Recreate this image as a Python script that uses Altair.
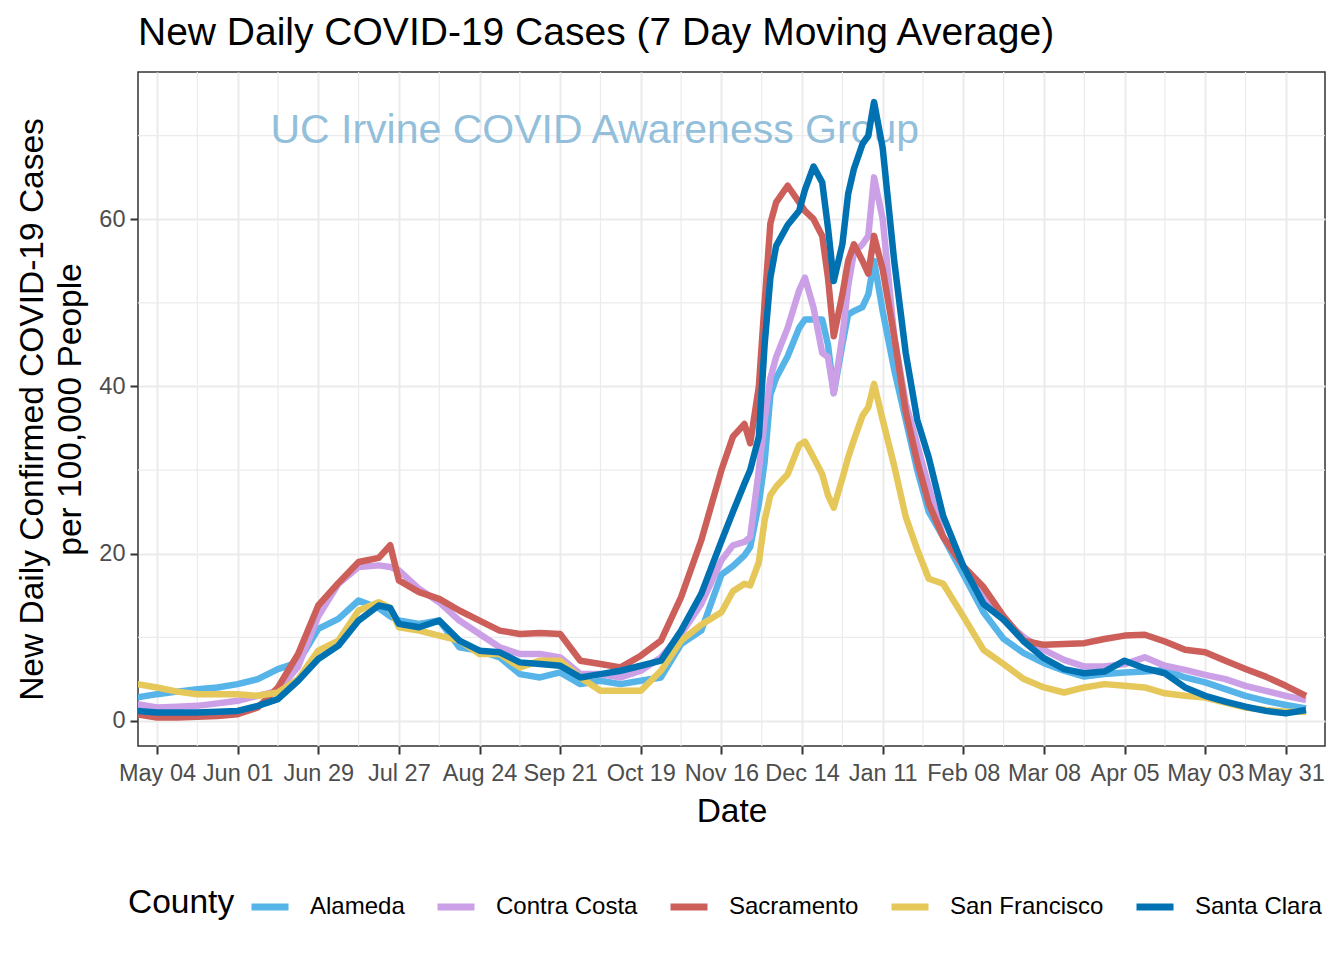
import altair as alt
import pandas as pd

# ---- data ----
dates = [
    "2020-04-27", "2020-05-04", "2020-05-11", "2020-05-18", "2020-05-25", "2020-06-01",
    "2020-06-08", "2020-06-15", "2020-06-22", "2020-06-29", "2020-07-06", "2020-07-13",
    "2020-07-20", "2020-07-24", "2020-07-27", "2020-08-03", "2020-08-10", "2020-08-17",
    "2020-08-24", "2020-08-31", "2020-09-07", "2020-09-14", "2020-09-21", "2020-09-28",
    "2020-10-05", "2020-10-12", "2020-10-19", "2020-10-26", "2020-11-02", "2020-11-09",
    "2020-11-16", "2020-11-20", "2020-11-24", "2020-11-26", "2020-11-29", "2020-12-01",
    "2020-12-03", "2020-12-05", "2020-12-09", "2020-12-13", "2020-12-15", "2020-12-18",
    "2020-12-21", "2020-12-23", "2020-12-25", "2020-12-28", "2020-12-30", "2021-01-01",
    "2021-01-04", "2021-01-06", "2021-01-08", "2021-01-11", "2021-01-15", "2021-01-19",
    "2021-01-23", "2021-01-27", "2021-02-01", "2021-02-08", "2021-02-15", "2021-02-22",
    "2021-03-01", "2021-03-08", "2021-03-15", "2021-03-22", "2021-03-29", "2021-04-05",
    "2021-04-12", "2021-04-19", "2021-04-26", "2021-05-03", "2021-05-10", "2021-05-17",
    "2021-05-24", "2021-05-31", "2021-06-07",
]

alameda = [
    2.8, 3.2, 3.5, 3.8, 4.0, 4.4, 5.0, 6.2, 7.0, 11.0, 12.2, 14.4, 13.5, 12.5, 12.0,
    11.6, 12.0, 8.8, 8.4, 7.6, 5.6, 5.2, 5.8, 4.4, 4.8, 4.4, 4.8, 5.2, 9.2, 10.8,
    17.5, 18.5, 19.8, 20.8, 26.0, 31.0, 39.0, 41.0, 43.6, 47.0, 48.0, 48.0, 48.0, 45.0, 39.2,
    45.0, 48.6, 49.0, 49.5, 51.0, 55.0, 49.0, 42.0, 36.0, 30.0, 25.0, 22.0, 17.5, 13.0, 9.8,
    8.1, 6.9, 6.0, 5.3, 5.6, 5.8, 5.9, 6.1, 5.2, 4.6, 3.8, 3.0, 2.4, 1.9, 1.5,
]

contra_costa = [
    2.0, 1.6, 1.7, 1.8, 2.1, 2.4, 3.0, 3.6, 6.5, 12.5, 16.4, 18.4, 18.6, 18.4, 18.0,
    15.8, 14.2, 12.0, 10.4, 8.8, 8.0, 8.0, 7.6, 5.6, 5.6, 5.2, 6.0, 7.6, 10.4, 14.0,
    19.2, 21.0, 21.4, 22.0, 30.0, 36.0, 41.0, 43.5, 47.0, 51.5, 53.0, 49.4, 44.0, 43.5, 39.2,
    46.0, 52.0, 56.0, 57.0, 58.0, 65.0, 60.0, 46.0, 38.0, 33.0, 28.0, 22.0, 18.5, 15.0, 12.1,
    10.0, 8.5, 7.3, 6.5, 6.5, 6.8, 7.6, 6.6, 6.1, 5.5, 5.0, 4.2, 3.6, 3.0, 2.5,
]

sacramento = [
    0.8, 0.4, 0.4, 0.5, 0.6, 0.8, 1.6, 4.0, 8.0, 13.8, 16.5, 19.0, 19.5, 21.0, 16.8,
    15.4, 14.6, 13.2, 12.0, 10.8, 10.4, 10.5, 10.4, 7.2, 6.8, 6.4, 7.8, 9.6, 14.8, 21.6,
    30.0, 34.0, 35.5, 33.2, 40.0, 50.0, 59.5, 62.0, 64.0, 62.0, 61.0, 60.0, 58.0, 53.0, 46.0,
    51.0, 55.0, 57.0, 55.0, 53.5, 58.0, 54.0, 46.0, 37.0, 31.0, 26.0, 22.0, 18.5, 16.0, 12.5,
    9.6, 9.1, 9.2, 9.3, 9.8, 10.2, 10.3, 9.5, 8.5, 8.2, 7.2, 6.2, 5.3, 4.2, 3.0,
]

san_francisco = [
    4.4, 4.0, 3.5, 3.2, 3.2, 3.2, 3.0, 3.4, 5.0, 8.4, 9.6, 13.2, 14.2, 13.5, 11.2,
    10.8, 10.2, 9.6, 8.0, 8.0, 6.4, 7.2, 7.2, 5.2, 3.6, 3.6, 3.6, 6.0, 9.6, 11.5,
    13.0, 15.5, 16.4, 16.2, 19.0, 24.0, 27.0, 28.0, 29.5, 33.0, 33.4, 31.5, 29.5, 27.0, 25.5,
    29.0, 31.5, 33.6, 36.5, 37.5, 40.3, 36.0, 30.5, 24.4, 20.5, 17.0, 16.4, 12.5, 8.5, 6.8,
    5.0, 4.0, 3.4, 4.0, 4.4, 4.2, 4.0, 3.3, 3.0, 2.8, 2.2, 1.6, 1.3, 1.1, 1.1,
]

santa_clara = [
    1.2, 1.0, 1.0, 1.0, 1.1, 1.2, 1.8, 2.6, 4.8, 7.4, 9.0, 12.0, 13.8, 13.5, 11.6,
    11.2, 12.0, 9.6, 8.4, 8.2, 7.0, 6.8, 6.6, 5.2, 5.6, 6.0, 6.6, 7.2, 10.8, 15.2,
    21.5, 25.0, 28.4, 30.0, 34.0, 45.0, 53.0, 56.8, 59.3, 61.0, 63.5, 66.3, 64.4, 59.0, 52.6,
    57.0, 63.0, 66.0, 69.0, 70.0, 74.0, 68.5, 55.0, 44.0, 36.0, 31.5, 24.5, 18.5, 14.0, 12.1,
    9.5, 7.5, 6.2, 5.7, 5.9, 7.2, 6.3, 5.7, 4.0, 3.0, 2.3, 1.7, 1.2, 0.9, 1.3,
]

counties = ["Alameda", "Contra Costa", "Sacramento", "San Francisco", "Santa Clara"]
colors = ["#56B4E9", "#CCA0E6", "#CD5F5A", "#E6C75A", "#0072B2"]

tick_dates = [
    (2020, 5, 4), (2020, 6, 1), (2020, 6, 29), (2020, 7, 27), (2020, 8, 24),
    (2020, 9, 21), (2020, 10, 19), (2020, 11, 16), (2020, 12, 14), (2021, 1, 11),
    (2021, 2, 8), (2021, 3, 8), (2021, 4, 5), (2021, 5, 3), (2021, 5, 31),
]
minor_x_dates = [
    "2020-05-18", "2020-06-15", "2020-07-13", "2020-08-10", "2020-09-07", "2020-10-05",
    "2020-11-02", "2020-11-30", "2020-12-28", "2021-01-25", "2021-02-22", "2021-03-22",
    "2021-04-19", "2021-05-17",
]
y_ticks = [0, 20, 40, 60]
minor_y = [10, 30, 50, 70]

annotation_text = ["UC Irvine COVID Awareness Group"]
annotation_date = ["2020-10-03"]
annotation_value = [70.6]

# ---- tables ----
rows = []
for name, vals in zip(counties, [alameda, contra_costa, sacramento, san_francisco, santa_clara]):
    for d, v in zip(dates, vals):
        rows.append({"date": d + "T00:00:00", "county": name, "cases": v})
df = pd.DataFrame(rows)

minor_x_df = pd.DataFrame({"date": [d + "T00:00:00" for d in minor_x_dates]})
minor_y_df = pd.DataFrame({"cases": minor_y})
ann_df = pd.DataFrame({"date": [d + "T00:00:00" for d in annotation_date],
                       "cases": annotation_value, "label": annotation_text})

FONT = "Liberation Sans"

x_scale = alt.Scale(domain=[alt.DateTime(year=2020, month=4, date=27, hours=9, minutes=36),
                            alt.DateTime(year=2021, month=6, date=13, hours=14, minutes=20)])
y_scale = alt.Scale(domain=[-3.0, 77.6], nice=False, zero=False)

x_axis = alt.Axis(values=[alt.DateTime(year=y, month=m, date=d) for (y, m, d) in tick_dates],
                  format="%b %d", title="Date", labelPadding=7, labelAngle=0,
                  labelOverlap=False, titleY=75, titleBaseline="alphabetic")
y_axis = alt.Axis(values=y_ticks, title=["New Daily Confirmed COVID-19 Cases", "per 100,000 People"],
                  labelPadding=5, titleX=-96, titleY=337, titleAngle=-90,
                  titleAlign="center", titleBaseline="alphabetic", titleLineHeight=38)

x_enc = alt.X("date:T", scale=x_scale, axis=x_axis)
y_enc = alt.Y("cases:Q", scale=y_scale, axis=y_axis)

minor_x_layer = alt.Chart(minor_x_df).mark_rule(color="#EBEBEB", strokeWidth=1.2).encode(x=x_enc)
minor_y_layer = alt.Chart(minor_y_df).mark_rule(color="#EBEBEB", strokeWidth=1.2).encode(y=y_enc)

ann_layer = alt.Chart(ann_df).mark_text(
    font=FONT, fontSize=41, color="#93BFDB", align="center", baseline="middle"
).encode(x=x_enc, y=y_enc, text="label:N")

lines = alt.Chart(df).mark_line(strokeWidth=6.5, clip=True, strokeJoin="round", strokeCap="butt").encode(
    x=x_enc,
    y=y_enc,
    color=alt.Color("county:N", scale=alt.Scale(domain=counties, range=colors),
                    legend=alt.Legend(title="County")),
)

chart = alt.layer(minor_x_layer, minor_y_layer, ann_layer, lines).properties(
    width=1187,
    height=674,
    autosize=alt.AutoSizeParams(type="none"),
    padding={"left": 138, "top": 72, "right": 19, "bottom": 214},
    title=alt.TitleParams("New Daily COVID-19 Cases (7 Day Moving Average)", anchor="start",
                          frame="group", font=FONT, fontSize=39, fontWeight="normal",
                          color="#000000", offset=18),
).configure_view(
    stroke="#333333", strokeWidth=1.5
).configure_axis(
    domain=False, grid=True, gridColor="#EBEBEB", gridWidth=2,
    tickColor="#333333", tickWidth=2, tickSize=8,
    labelColor="#4D4D4D", labelFont=FONT, labelFontSize=23.5,
    titleFont=FONT, titleFontSize=33.5, titleFontWeight="normal", titleColor="#000000",
).configure_legend(
    orient="none", legendX=-10, legendY=813, direction="horizontal",
    titleOrient="left", titleFont=FONT, titleFontSize=33.5, titleFontWeight="normal",
    titleColor="#000000", titlePadding=13, titleBaseline="middle",
    labelFont=FONT, labelFontSize=24, labelColor="#000000", labelOffset=18,
    symbolType="stroke", symbolStrokeWidth=7, symbolSize=1369, columnPadding=18,
)

chart.save("out.html", embed_options={"renderer": "svg", "actions": False})
